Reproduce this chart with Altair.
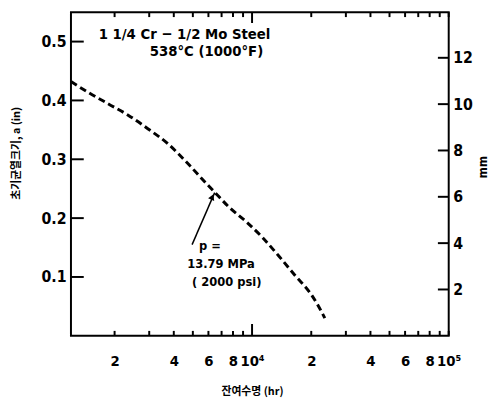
import math
import altair as alt
import pandas as pd

# ---- data ----
hours = [1200, 1479, 1862, 2344, 2951, 3715, 4677, 5888, 6457, 7674, 9333,
         11310, 13646, 16596, 20120, 21627, 23442]
crack_in = [0.432, 0.413, 0.394, 0.375, 0.352, 0.327, 0.294, 0.258, 0.244,
            0.218, 0.194, 0.167, 0.136, 0.102, 0.069, 0.052, 0.030]

x_minor_ticks = [2000, 3000, 4000, 5000, 6000, 7000, 8000, 9000,
                 20000, 30000, 40000, 50000, 60000, 70000, 80000, 90000, 100000]
x_major_ticks = [10000]
x_label_values = [2000, 4000, 6000, 8000, 10000, 20000, 40000, 60000, 80000, 100000]
x_label_texts = ["2", "4", "6", "8", "10⁴", "2", "4", "6", "8", "10⁵"]

y_in_ticks = [0.1, 0.2, 0.3, 0.4, 0.5]
y_mm_ticks = [2, 4, 6, 8, 10, 12]

title_lines = ["1 1/4 Cr − 1/2 Mo Steel", "538°C (1000°F)"]
title_hours = [1660, 3020]
title_in = [0.513, 0.484]

note_lines = ["p =", "13.79 MPa", "( 2000 psi)"]
note_hours = [5370, 4677, 4955]
note_in = [0.152, 0.122, 0.092]

arrow_from = (4955, 0.155)
arrow_to = (6457, 0.2433)
arrow_head = (6280, 0.236)

X_DOMAIN = [1200, 100001]
IN_DOMAIN = [0, 0.55]
MM_DOMAIN = [0, 0.55 * 25.4]

W, H = 384, 329
FONT = "DejaVu Sans Condensed, DejaVu Sans"
KFONT = "Noto Sans CJK KR"

# pixel -> data conversions used only for tick lengths (styling)
PX_PER_IN = H / (IN_DOMAIN[1] - IN_DOMAIN[0])
PX_PER_DEC = W / math.log10(X_DOMAIN[1] / X_DOMAIN[0])


def in_len(px):
    return px / PX_PER_IN


def x_factor(px):
    return 10 ** (px / PX_PER_DEC)


curve = pd.DataFrame({"hours": hours, "crack_in": crack_in})
titles = pd.DataFrame({"hours": title_hours, "crack_in": title_in, "text": title_lines})
notes = pd.DataFrame({"hours": note_hours, "crack_in": note_in, "text": note_lines})
arrow = pd.DataFrame({"hours": [arrow_from[0]], "crack_in": [arrow_from[1]],
                      "hours2": [arrow_to[0]], "crack_in2": [arrow_to[1]]})
head = pd.DataFrame({"hours": [arrow_head[0]], "crack_in": [arrow_head[1]]})
ymm_df = pd.DataFrame({"crack_mm": y_mm_ticks})

# vertical tick segments (bottom and top, inward)
vt_rows = []
for v in x_minor_ticks:
    vt_rows.append((float(v), IN_DOMAIN[0], IN_DOMAIN[0] + in_len(5)))
    vt_rows.append((float(v), IN_DOMAIN[1] - in_len(5), IN_DOMAIN[1]))
for v in x_major_ticks:
    vt_rows.append((float(v), IN_DOMAIN[0], IN_DOMAIN[0] + in_len(12)))
    vt_rows.append((float(v), IN_DOMAIN[1] - in_len(11), IN_DOMAIN[1]))
xt = pd.DataFrame(vt_rows, columns=["hours", "crack_in", "crack_in2"])

# horizontal tick segments (left in inches, right in mm, inward)
ht_rows = []
for v in y_in_ticks:
    ht_rows.append((float(X_DOMAIN[0]), X_DOMAIN[0] * x_factor(13), v))
for v in y_mm_ticks:
    ht_rows.append((X_DOMAIN[1] / x_factor(11), float(X_DOMAIN[1]), v / 25.4))
yt = pd.DataFrame(ht_rows, columns=["hours", "hours2", "crack_in"])

label_expr = " : ".join(f"datum.value == {v} ? '{t}'" for v, t in zip(x_label_values, x_label_texts)) + " : ''"


def X(axis, field="hours"):
    return alt.X(f"{field}:Q", scale=alt.Scale(type="log", domain=X_DOMAIN, nice=False), axis=axis)


def Yin(axis, field="crack_in"):
    return alt.Y(f"{field}:Q", scale=alt.Scale(domain=IN_DOMAIN, nice=False, zero=False), axis=axis)


def Ymm(axis, field="crack_mm"):
    return alt.Y(f"{field}:Q", scale=alt.Scale(domain=MM_DOMAIN, nice=False, zero=False), axis=axis)


main = alt.Chart(curve).mark_line(
    color="black", strokeWidth=3, strokeDash=[7, 4], interpolate="monotone"
).encode(
    x=X(alt.Axis(orient="bottom", values=x_label_values, labelExpr=label_expr,
                 ticks=False, domain=False, grid=False, labelPadding=18,
                 labelOverlap=False, labelFlush=False,
                 labelFont=FONT, labelFontSize=15, labelFontWeight="bold", labelColor="black",
                 title="잔여수명 (hr)", titleFont=KFONT, titleFontSize=11, titleFontWeight="bold",
                 titleColor="black", titleX=184, titleY=57, titleBaseline="middle")),
    y=Yin(alt.Axis(orient="left", values=y_in_ticks, format=".1f", ticks=False, domain=False,
                   grid=False, labelPadding=5, labelFont=FONT, labelFontSize=16,
                   labelFontWeight="bold", labelColor="black",
                   title="초기균열크기, a (in)", titleFont=KFONT, titleFontSize=11,
                   titleFontWeight="bold", titleColor="black", titleAngle=270,
                   titleX=-55, titleY=143, titleAlign="center", titleBaseline="middle")),
)

mm_axis = alt.Chart(ymm_df).mark_point(opacity=0).encode(
    y=Ymm(alt.Axis(orient="right", values=y_mm_ticks, ticks=False, domain=False, grid=False,
                   labelPadding=4, labelFont=FONT, labelFontSize=16, labelFontWeight="bold",
                   labelColor="black", title="mm", titleFont=FONT, titleFontSize=12,
                   titleFontWeight="bold", titleColor="black", titleAngle=270,
                   titleX=34, titleY=157, titleAlign="center", titleBaseline="middle")),
)

xt_layer = alt.Chart(xt).mark_rule(color="black", strokeWidth=2).encode(
    x=X(None), y=Yin(None), y2="crack_in2:Q")
yt_layer = alt.Chart(yt).mark_rule(color="black", strokeWidth=2).encode(
    x=X(None), x2="hours2:Q", y=Yin(None))

title_layer = alt.Chart(titles).mark_text(
    align="left", baseline="middle", font=FONT, fontSize=15, fontWeight="bold", color="black"
).encode(x=X(None), y=Yin(None), text="text:N")

note_layer = alt.Chart(notes).mark_text(
    align="left", baseline="middle", font=FONT, fontSize=13, fontWeight="bold", color="black"
).encode(x=X(None), y=Yin(None), text="text:N")

arrow_layer = alt.Chart(arrow).mark_rule(color="black", strokeWidth=1.5).encode(
    x=X(None), y=Yin(None), x2="hours2:Q", y2="crack_in2:Q"
)

head_layer = alt.Chart(head).mark_point(
    shape="triangle-up", filled=True, color="black", size=45, angle=24, opacity=1
).encode(x=X(None), y=Yin(None))

chart = alt.layer(
    main, mm_axis, xt_layer, yt_layer, title_layer, note_layer, arrow_layer, head_layer
).resolve_scale(
    x="independent", y="independent"
).properties(
    width=W, height=H,
    autosize=alt.AutoSizeParams(type="none"),
    padding={"left": 64, "top": 1, "right": 44, "bottom": 61},
).configure_view(
    stroke="black", strokeWidth=2
)

chart.save("out.html", embed_options={"renderer": "svg", "actions": False})
